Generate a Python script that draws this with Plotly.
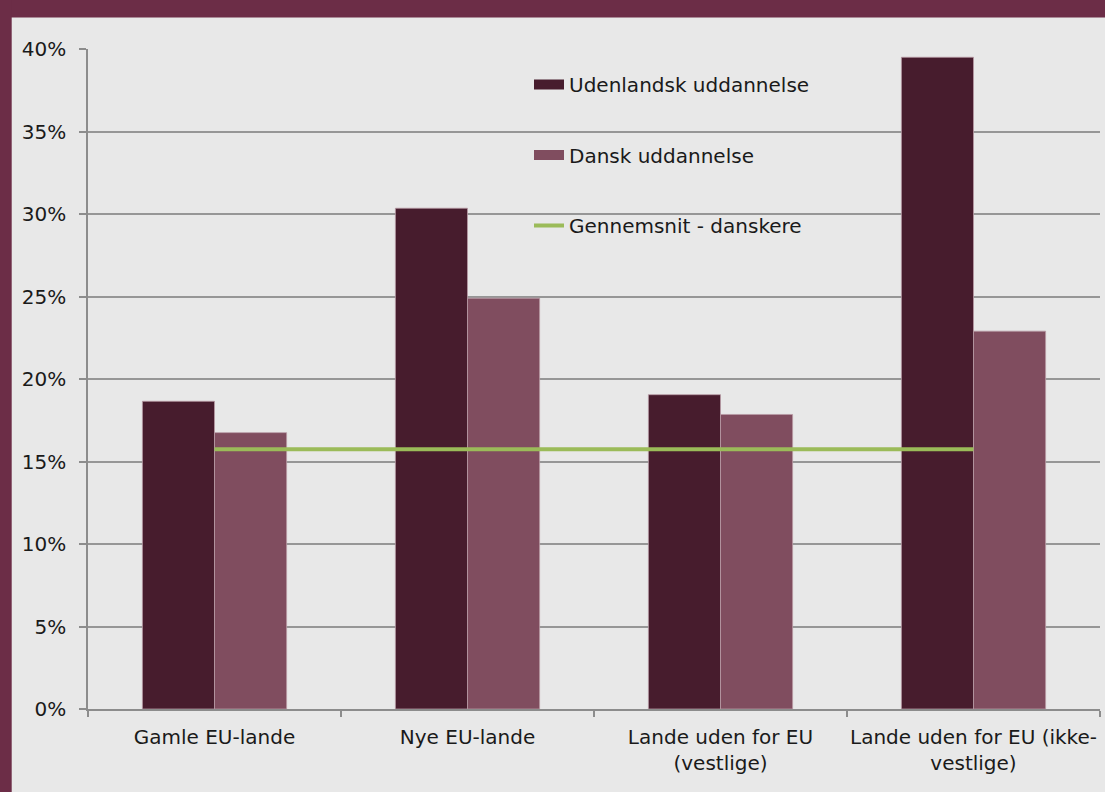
import plotly.graph_objects as go

categories = ["Gamle EU-lande", "Nye EU-lande", "Lande uden for EU<br>(vestlige)",
              "Lande uden for EU (ikke-<br>vestlige)"]
udenlandsk = [18.65, 30.35, 19.05, 39.5]
dansk = [16.75, 24.9, 17.85, 22.9]
gennemsnit = [15.75, 15.75, 15.75, 15.75]
ytick_vals = [0, 5, 10, 15, 20, 25, 30, 35, 40]
ytick_text = [f"{v}%" for v in ytick_vals]

names = ["Udenlandsk uddannelse", "Dansk uddannelse", "Gennemsnit - danskere"]
c_dark = "#471C2D"
c_light = "#804D5F"
c_green = "#9BBB59"
c_frame = "#6C2D47"
bg = "#E8E8E8"

W, H = 1105, 792
ml, mr, mt, mb = 88, 5, 49, 83
pw, ph = W - ml - mr, H - mt - mb

fig = go.Figure()
fig.add_trace(go.Bar(x=categories, y=udenlandsk, name=names[0], showlegend=False,
                     marker=dict(color=c_dark, line=dict(color="#B79BA5", width=0.8))))
fig.add_trace(go.Bar(x=categories, y=dansk, name=names[1], showlegend=False,
                     marker=dict(color=c_light, line=dict(color="#B79BA5", width=0.8))))
fig.add_trace(go.Scatter(x=categories, y=gennemsnit, name=names[2], mode="lines",
                         showlegend=False, line=dict(color=c_green, width=4)))
# legend entries
for nm, col, w, g in [(names[0], c_dark, 11, "a"), (names[1], c_light, 11, "b"),
                      (names[2], c_green, 4, "c")]:
    fig.add_trace(go.Scatter(x=[None], y=[None], mode="lines", name=nm, legendgroup=g,
                             line=dict(color=col, width=w), hoverinfo="skip"))

def px_x(p):
    return (p - ml) / pw

def px_y(p):
    return (H - mb - p) / ph

shapes = [
    dict(type="rect", xref="paper", yref="paper", x0=px_x(0), x1=px_x(W), y0=px_y(17.5), y1=px_y(0),
         fillcolor=c_frame, line=dict(width=0), layer="below"),
    dict(type="rect", xref="paper", yref="paper", x0=px_x(0), x1=px_x(11.7), y0=px_y(H), y1=px_y(0),
         fillcolor=c_frame, line=dict(width=0), layer="below"),
]

fig.update_layout(
    width=W, height=H, autosize=False,
    margin=dict(l=ml, r=mr, t=mt, b=mb, pad=0),
    paper_bgcolor=bg, plot_bgcolor=bg,
    font=dict(family="DejaVu Sans", size=20, color="#1a1a1a"),
    barmode="group", bargap=0.43, bargroupgap=0,
    shapes=shapes,
    legend=dict(x=px_x(529), y=px_y(65), xanchor="left", yanchor="top",
                bgcolor="rgba(0,0,0,0)", traceorder="grouped", tracegroupgap=41.5,
                font=dict(size=20, color="#1a1a1a")),
    xaxis=dict(showline=True, linecolor="#8C8C8C", linewidth=1.5, ticks="outside",
               tickson="boundaries", ticklen=6, tickcolor="#8C8C8C", tickwidth=1.5,
               ticklabelstandoff=9, tickangle=0, showgrid=False, zeroline=False),
    yaxis=dict(range=[0, 40], tickvals=ytick_vals, ticktext=ytick_text,
               showline=True, linecolor="#8C8C8C", linewidth=1.5, ticks="outside",
               ticklen=7, tickcolor="#8C8C8C", tickwidth=1.5, ticklabelstandoff=9,
               showgrid=True, gridcolor="#969696", gridwidth=1.5, zeroline=False),
)

fig.write_html("out.html",
               config={"responsive": False, "displayModeBar": False},
               post_script="document.body.style.margin='0';"
                           "document.body.style.background='" + bg + "';")
